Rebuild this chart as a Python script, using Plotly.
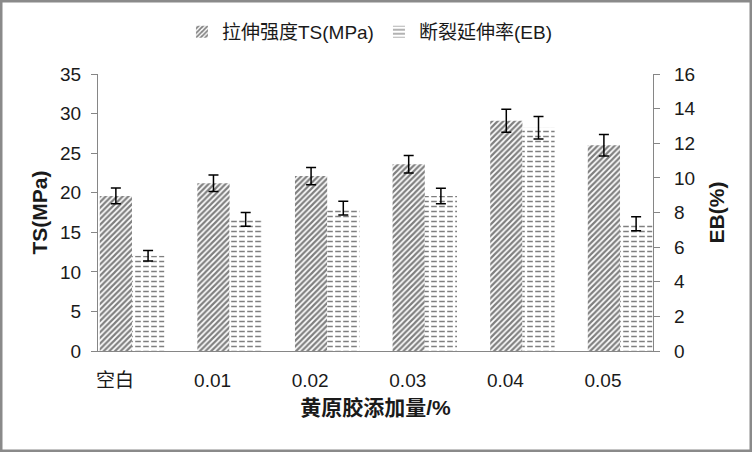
import plotly.graph_objects as go

categories = ["空白", "0.01", "0.02", "0.03", "0.04", "0.05"]
ts_values = [19.6, 21.2, 22.1, 23.6, 29.1, 26.0]
ts_errors = [1.0, 1.05, 1.1, 1.1, 1.45, 1.35]
eb_values = [5.5, 7.6, 8.25, 8.95, 12.9, 7.35]
eb_errors = [0.3, 0.4, 0.4, 0.45, 0.65, 0.4]

ts_name = "拉伸强度TS(MPa)"
eb_name = "断裂延伸率(EB)"

FONT = "Liberation Sans, Noto Sans CJK SC, sans-serif"
AXIS_GRAY = "#868686"
BAR_W = 0.33

fig = go.Figure()

fig.add_trace(go.Bar(
    x=categories, y=ts_values, name=ts_name, yaxis="y",
    width=BAR_W, offset=-BAR_W,
    marker=dict(color="white", line=dict(width=0),
                pattern=dict(shape="/", fgcolor="black", bgcolor="white",
                             size=4, solidity=0.55, fillmode="overlay")),
    error_y=dict(type="data", array=ts_errors, color="black", thickness=1.5, width=5),
))

fig.add_trace(go.Bar(
    x=categories, y=eb_values, name=eb_name, yaxis="y2",
    width=BAR_W, offset=0, legendgroup="eb",
    marker=dict(color="white", line=dict(width=0),
                pattern=dict(shape="-", fgcolor="black", bgcolor="white",
                             size=5, solidity=0.3, fillmode="overlay")),
))
fig.add_trace(go.Bar(
    x=categories, y=eb_values, name=eb_name, yaxis="y2",
    width=BAR_W, offset=0, legendgroup="eb", showlegend=False,
    marker=dict(color="rgba(0,0,0,0)", line=dict(width=0),
                pattern=dict(shape="|", fgcolor="white",
                             size=8, solidity=0.3, fillmode="replace")),
    error_y=dict(type="data", array=eb_errors, color="black", thickness=1.5, width=5),
))

L, R, T, B = 98, 99, 74, 101
W, H = 752, 452
pw, ph = W - L - R, H - T - B

fig.update_layout(
    width=W, height=H,
    margin=dict(l=L, r=R, t=T, b=B, pad=0),
    paper_bgcolor="white", plot_bgcolor="white",
    barmode="overlay",
    font=dict(family=FONT, size=19, color="#1a1a1a"),
    showlegend=True,
    legend=dict(orientation="h", x=0.49, xanchor="center", y=1.152, yanchor="middle",
                font=dict(size=19), bgcolor="rgba(0,0,0,0)", traceorder="normal"),
    xaxis=dict(type="category", range=[-0.348, 5.338], showgrid=False,
               showline=True, linecolor=AXIS_GRAY, linewidth=1.3, ticks="",
               ticklabelshift=-17, ticklabelstandoff=12,
               title=dict(text="<b>黄原胶添加量/%</b>", font=dict(size=21), standoff=10)),
    yaxis=dict(range=[0, 35], dtick=5, showgrid=False, zeroline=False,
               showline=True, linecolor=AXIS_GRAY, linewidth=1.3,
               ticks="outside", ticklen=6, tickcolor=AXIS_GRAY, tickwidth=1.3,
               ticklabelstandoff=6,
               title=dict(text="<b>TS(MPa)</b>", font=dict(size=21), standoff=6)),
    yaxis2=dict(range=[0, 16], dtick=2, overlaying="y", side="right", showgrid=False,
                zeroline=False, showline=True, linecolor=AXIS_GRAY, linewidth=1.3,
                ticks="outside", ticklen=6, tickcolor=AXIS_GRAY, tickwidth=1.3,
                ticklabelstandoff=10,
                title=dict(text="<b>EB(%)</b>", font=dict(size=21), standoff=14)),
)

fig.add_shape(type="rect", xref="paper", yref="paper",
              x0=-L / pw, x1=1 + R / pw, y0=-B / ph, y1=1 + T / ph,
              line=dict(color="#8a8a8a", width=5), fillcolor="rgba(0,0,0,0)", layer="above")

fig.write_html("out.html", config={"displayModeBar": False},
               post_script="document.body.style.margin='0';document.body.style.overflow='hidden';")
